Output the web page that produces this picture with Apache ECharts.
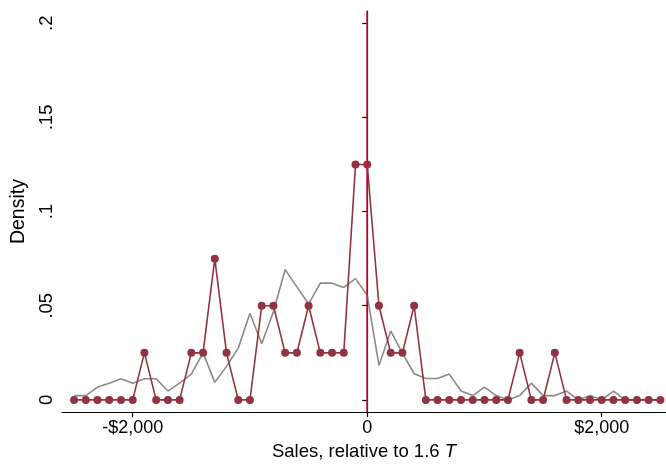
<!DOCTYPE html>
<html>
<head>
<meta charset="utf-8">
<script src="https://cdn.jsdelivr.net/npm/echarts@6/dist/echarts.min.js"></script>
<style>
  html, body { margin: 0; padding: 0; background: #fff; }
  #chart { width: 666px; height: 466px; }
</style>
</head>
<body>
<div id="chart"></div>
<script>
// Sales bins, relative to the 1.6T threshold (dollars)
const salesBins = [
  -2500, -2400, -2300, -2200, -2100, -2000, -1900, -1800, -1700, -1600,
  -1500, -1400, -1300, -1200, -1100, -1000, -900, -800, -700, -600,
  -500, -400, -300, -200, -100, 0, 100, 200, 300, 400,
  500, 600, 700, 800, 900, 1000, 1100, 1200, 1300, 1400,
  1500, 1600, 1700, 1800, 1900, 2000, 2100, 2200, 2300, 2400, 2500
];

// Observed density (markers)
const observedDensity = [
  0, 0, 0, 0, 0, 0, 0.025, 0, 0, 0,
  0.025, 0.025, 0.075, 0.025, 0, 0, 0.05, 0.05, 0.025, 0.025,
  0.05, 0.025, 0.025, 0.025, 0.125, 0.125, 0.05, 0.025, 0.025, 0.05,
  0, 0, 0, 0, 0, 0, 0, 0, 0.025, 0,
  0, 0.025, 0, 0, 0, 0, 0, 0, 0, 0, 0
];

// Comparison density (gray line)
const comparisonDensity = [
  0.0023, 0.0023, 0.0068, 0.0089, 0.0112, 0.0089, 0.0112, 0.0112, 0.0047, 0.0089,
  0.0137, 0.025, 0.0093, 0.0178, 0.0275, 0.046, 0.0298, 0.0468, 0.0692, 0.060,
  0.0509, 0.062, 0.062, 0.0597, 0.0644, 0.0556, 0.0183, 0.0366, 0.0248, 0.0139,
  0.0114, 0.0114, 0.0137, 0.0047, 0.0023, 0.0068, 0.0023, 0, 0.0023, 0.0089,
  0.0023, 0.0023, 0.0047, 0, 0.0023, 0, 0.0047, 0, 0, 0, 0
];

const xTicks = [-2000, 0, 2000];
const yTicks = [0, 0.05, 0.1, 0.15, 0.2];
const thresholdX = 0;

const fontFamily = 'Liberation Sans, Arial, Helvetica, sans-serif';

function fmtDollar(v) {
  if (v === 0) return '0';
  const s = '$' + Math.abs(v).toLocaleString('en-US');
  return v < 0 ? '-' + s : s;
}
function fmtDensity(v) {
  if (v === 0) return '0';
  return String(v).replace(/^0/, '');
}

const chart = echarts.init(document.getElementById('chart'), null, { renderer: 'canvas' });

chart.setOption({
  animation: false,
  backgroundColor: '#ffffff',
  grid: { left: 62, right: 0, top: 11, bottom: 50, containLabel: false },
  xAxis: {
    type: 'value',
    min: -2603,
    max: 2548,
    splitLine: { show: false },
    axisLine: { onZero: false, lineStyle: { color: '#000', width: 1.2 } },
    axisTick: { customValues: xTicks, length: 5, lineStyle: { color: '#000', width: 1.2 } },
    axisLabel: {
      customValues: xTicks,
      formatter: fmtDollar,
      color: '#000',
      fontSize: 18,
      fontFamily: fontFamily,
      margin: 7
    },
    name: '{a|Sales, relative to 1.6 }{b|T}',
    nameLocation: 'middle',
    nameGap: 27,
    nameTextStyle: {
      rich: {
        a: { fontSize: 18.5, fontFamily: fontFamily, color: '#000' },
        b: { fontSize: 18.5, fontFamily: fontFamily, color: '#000', fontStyle: 'italic' }
      }
    }
  },
  yAxis: {
    type: 'value',
    min: -0.00647,
    max: 0.2065,
    splitLine: { show: false },
    axisLine: { show: true, lineStyle: { color: '#000', width: 1.2 } },
    axisTick: { show: true, customValues: yTicks, length: 5, lineStyle: { color: '#000', width: 1.2 } },
    axisLabel: {
      customValues: yTicks,
      formatter: fmtDensity,
      rotate: 90,
      color: '#000',
      fontSize: 18.5,
      fontFamily: fontFamily,
      margin: 6
    },
    name: 'Density',
    nameLocation: 'middle',
    nameGap: 32,
    nameRotate: 90,
    nameTextStyle: { fontSize: 19.5, fontFamily: fontFamily, color: '#000' }
  },
  series: [
    {
      name: 'comparison',
      type: 'line',
      data: salesBins.map((x, i) => [x, comparisonDensity[i]]),
      showSymbol: false,
      symbol: 'none',
      lineStyle: { color: '#8a8a8a', width: 1.6 },
      z: 2
    },
    {
      name: 'observed',
      type: 'line',
      data: salesBins.map((x, i) => [x, observedDensity[i]]),
      symbol: 'circle',
      symbolSize: 8,
      itemStyle: { color: '#913340' },
      lineStyle: { color: '#913340', width: 1.6 },
      z: 3,
      markLine: {
        silent: true,
        symbol: 'none',
        label: { show: false },
        lineStyle: { color: '#c8173f', width: 1.5, type: 'solid' },
        data: [{ xAxis: thresholdX }],
        z: 4
      }
    }
  ]
});
</script>
</body>
</html>
